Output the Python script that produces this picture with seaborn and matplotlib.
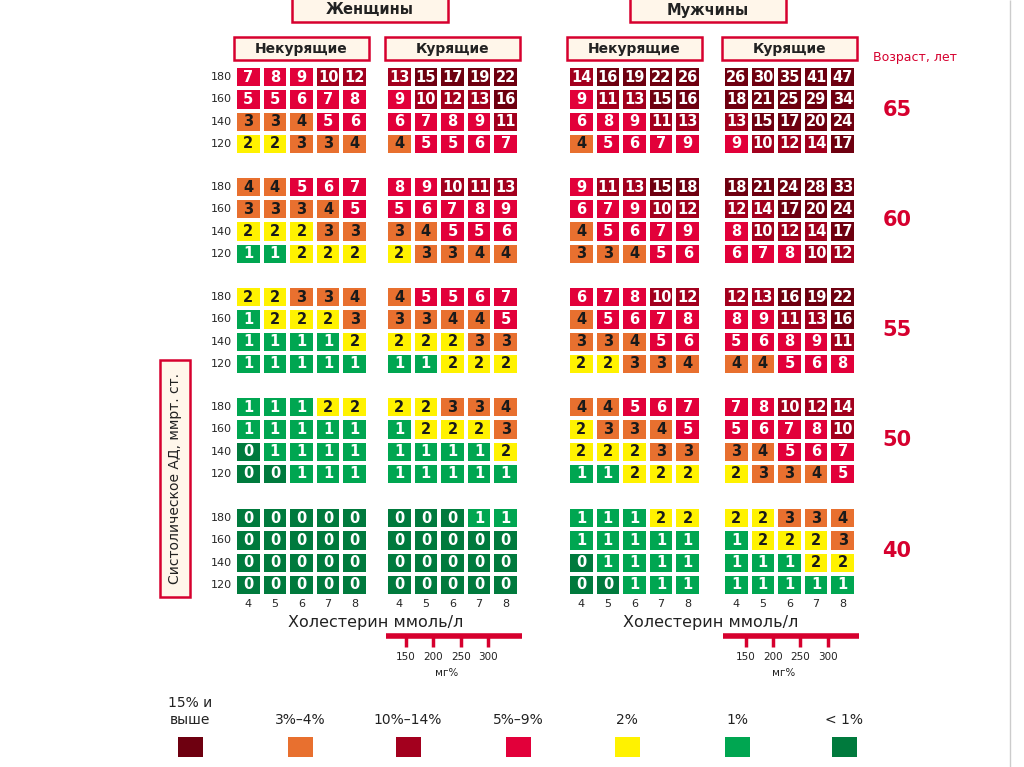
import numpy as np
import matplotlib.pyplot as plt
import seaborn as sns
from matplotlib.colors import ListedColormap, BoundaryNorm
from matplotlib.patches import Rectangle
from matplotlib.lines import Line2D

sns.set_style("white")
plt.rcParams['font.family'] = ['DejaVu Sans']

# данные SCORE (риск, %)
ages = [65, 60, 55, 50, 40]
sbp = [180, 160, 140, 120]
chol = [4, 5, 6, 7, 8]
chol_mg = [150, 200, 250, 300]

women_nonsmoker = {
    65: [[7, 8, 9, 10, 12], [5, 5, 6, 7, 8], [3, 3, 4, 5, 6], [2, 2, 3, 3, 4]],
    60: [[4, 4, 5, 6, 7], [3, 3, 3, 4, 5], [2, 2, 2, 3, 3], [1, 1, 2, 2, 2]],
    55: [[2, 2, 3, 3, 4], [1, 2, 2, 2, 3], [1, 1, 1, 1, 2], [1, 1, 1, 1, 1]],
    50: [[1, 1, 1, 2, 2], [1, 1, 1, 1, 1], [0, 1, 1, 1, 1], [0, 0, 1, 1, 1]],
    40: [[0, 0, 0, 0, 0], [0, 0, 0, 0, 0], [0, 0, 0, 0, 0], [0, 0, 0, 0, 0]],
}
women_smoker = {
    65: [[13, 15, 17, 19, 22], [9, 10, 12, 13, 16], [6, 7, 8, 9, 11], [4, 5, 5, 6, 7]],
    60: [[8, 9, 10, 11, 13], [5, 6, 7, 8, 9], [3, 4, 5, 5, 6], [2, 3, 3, 4, 4]],
    55: [[4, 5, 5, 6, 7], [3, 3, 4, 4, 5], [2, 2, 2, 3, 3], [1, 1, 2, 2, 2]],
    50: [[2, 2, 3, 3, 4], [1, 2, 2, 2, 3], [1, 1, 1, 1, 2], [1, 1, 1, 1, 1]],
    40: [[0, 0, 0, 1, 1], [0, 0, 0, 0, 0], [0, 0, 0, 0, 0], [0, 0, 0, 0, 0]],
}
men_nonsmoker = {
    65: [[14, 16, 19, 22, 26], [9, 11, 13, 15, 16], [6, 8, 9, 11, 13], [4, 5, 6, 7, 9]],
    60: [[9, 11, 13, 15, 18], [6, 7, 9, 10, 12], [4, 5, 6, 7, 9], [3, 3, 4, 5, 6]],
    55: [[6, 7, 8, 10, 12], [4, 5, 6, 7, 8], [3, 3, 4, 5, 6], [2, 2, 3, 3, 4]],
    50: [[4, 4, 5, 6, 7], [2, 3, 3, 4, 5], [2, 2, 2, 3, 3], [1, 1, 2, 2, 2]],
    40: [[1, 1, 1, 2, 2], [1, 1, 1, 1, 1], [0, 1, 1, 1, 1], [0, 0, 1, 1, 1]],
}
men_smoker = {
    65: [[26, 30, 35, 41, 47], [18, 21, 25, 29, 34], [13, 15, 17, 20, 24], [9, 10, 12, 14, 17]],
    60: [[18, 21, 24, 28, 33], [12, 14, 17, 20, 24], [8, 10, 12, 14, 17], [6, 7, 8, 10, 12]],
    55: [[12, 13, 16, 19, 22], [8, 9, 11, 13, 16], [5, 6, 8, 9, 11], [4, 4, 5, 6, 8]],
    50: [[7, 8, 10, 12, 14], [5, 6, 7, 8, 10], [3, 4, 5, 6, 7], [2, 3, 3, 4, 5]],
    40: [[2, 2, 3, 3, 4], [1, 2, 2, 2, 3], [1, 1, 1, 2, 2], [1, 1, 1, 1, 1]],
}

# цветовая шкала риска
level_bounds = [-0.5, 0.5, 1.5, 2.5, 4.5, 9.5, 14.5, 100]
level_colors = ['#007A3D', '#00A651', '#FFF200', '#E8702F', '#E2003A', '#A3001E', '#6E0010']
dark_text_levels = ['#FFF200', '#E8702F']

legend_labels = ['15% и\nвыше', '3%–4%', '10%–14%', '5%–9%', '2%', '1%', '< 1%']
legend_colors = ['#6E0010', '#E8702F', '#A3001E', '#E2003A', '#FFF200', '#00A651', '#007A3D']

RED = '#D6002E'
W, H = 1024, 767

fig = plt.figure(figsize=(W / 100, H / 100), dpi=100)


def px_axes(x0, y0, x1, y1):
    return fig.add_axes([x0 / W, 1 - y1 / H, (x1 - x0) / W, (y1 - y0) / H])


def px_box(x0, y0, x1, y1, text, fc='#FFF6EA', fs=10.5, rot=0, weight='bold'):
    fig.add_artist(Rectangle((x0 / W, 1 - y1 / H), (x1 - x0) / W, (y1 - y0) / H,
                             transform=fig.transFigure, facecolor=fc,
                             edgecolor=RED, linewidth=1.8))
    fig.text((x0 + x1) / 2 / W, 1 - (y0 + y1) / 2 / H, text, ha='center', va='center',
             fontsize=fs, fontweight=weight, rotation=rot, color='#222222')


def px_line(x0, y0, x1, y1, lw=3, color=RED):
    fig.add_artist(Line2D([x0 / W, x1 / W], [1 - y0 / H, 1 - y1 / H],
                          transform=fig.transFigure, color=color, linewidth=lw,
                          solid_capstyle='butt'))


cmap = ListedColormap(level_colors)
norm = BoundaryNorm(level_bounds, cmap.N)

groups = [women_nonsmoker, women_smoker, men_nonsmoker, men_smoker]
block_x = [235, 386, 568, 723]
block_y = [66, 176, 286, 396, 507]
bw, bh = 133, 89

for gi, grp in enumerate(groups):
    for ai, age in enumerate(ages):
        x0, y0 = block_x[gi], block_y[ai]
        ax = px_axes(x0, y0, x0 + bw, y0 + bh)
        vals = np.array(grp[age])
        sns.heatmap(vals, ax=ax, cmap=cmap, norm=norm, cbar=False,
                    annot=True, fmt='d', linewidths=1.6, linecolor='white',
                    annot_kws=dict(fontsize=10.5, fontweight='bold'),
                    xticklabels=chol if ai == len(ages) - 1 else False,
                    yticklabels=sbp if gi == 0 else False)
        for t, v in zip(ax.texts, vals.flatten()):
            c = level_colors[np.searchsorted(level_bounds, v) - 1]
            t.set_color('#1a1a1a' if c in dark_text_levels else 'white')
        ax.tick_params(length=0, labelsize=8, pad=2)
        ax.set_yticklabels(ax.get_yticklabels(), rotation=0)

# заголовки
px_box(292, -2, 448, 22, 'Женщины', fs=10.5)
px_box(630, -2, 786, 22, 'Мужчины', fs=10.5)
for x0, lab in zip(block_x, ['Некурящие', 'Курящие', 'Некурящие', 'Курящие']):
    px_box(x0 - 1, 37, x0 + bw + 1, 60, lab, fs=10)

fig.text(915 / W, 1 - 57 / H, 'Возраст, лет', color=RED, fontsize=9,
         ha='center', va='center')
for ai, age in enumerate(ages):
    fig.text(897 / W, 1 - (block_y[ai] + 44) / H, str(age), color=RED,
             fontsize=15, fontweight='bold', ha='center', va='center')

# подпись оси y
px_box(160, 360, 190, 597, 'Систолическое АД, ммрт. ст.', fs=10, rot=90,
       weight='normal')

# холестерин
for xc in [376, 711]:
    fig.text(xc / W, 1 - 622 / H, 'Холестерин ммоль/л', fontsize=11.5,
             ha='center', va='center', color='#222222')

mg_x = {386: [406, 433, 461, 488], 723: [746, 773, 800, 828]}
for x0, ticks in mg_x.items():
    px_line(x0, 636, x0 + 136, 636, lw=4)
    for tx, val in zip(ticks, chol_mg):
        px_line(tx, 636, tx, 647, lw=2.5)
        fig.text(tx / W, 1 - 657 / H, str(val), fontsize=7.5, ha='center',
                 va='center', color='#222222')
    fig.text((x0 + 61) / W, 1 - 673 / H, 'мг%', fontsize=7.5, ha='center',
             va='center', color='#222222')

# легенда
leg_x = [190, 300, 408, 518, 627, 737, 844]
for xc, lab, col in zip(leg_x, legend_labels, legend_colors):
    fig.add_artist(Rectangle(((xc - 12) / W, 1 - 757 / H), 25 / W, 20 / H,
                             transform=fig.transFigure, facecolor=col,
                             edgecolor='none'))
    fig.text(xc / W, 1 - 727 / H, lab, fontsize=10, ha='center', va='bottom',
             color='#222222', linespacing=1.3)

px_line(1010, 0, 1010, 767, lw=1, color='#cccccc')

fig.savefig('out.png', dpi=100)
